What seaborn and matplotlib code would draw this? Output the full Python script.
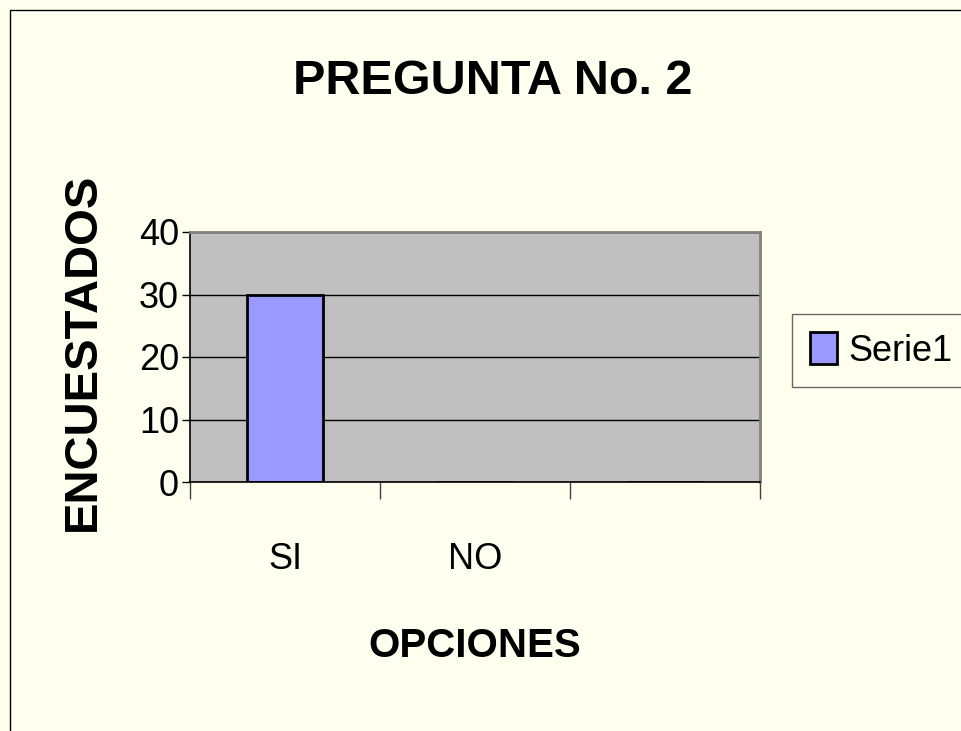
import seaborn as sns
import pandas as pd
import matplotlib.pyplot as plt
from matplotlib.patches import Rectangle

# data
opciones = ["SI", "NO", ""]
encuestados = [30, 0, 0]
serie = "Serie1"

df = pd.DataFrame({"opcion": opciones, "valor": encuestados})

sns.set_style("white")
plt.rcParams['font.family'] = ['Liberation Sans', 'DejaVu Sans']
plt.rcParams['text.color'] = 'black'
plt.rcParams['axes.labelcolor'] = 'black'
plt.rcParams['xtick.color'] = 'black'
plt.rcParams['ytick.color'] = 'black'

bg = "#FFFFF0"
fig = plt.figure(figsize=(9.61, 7.31), dpi=100, facecolor=bg)
ax = fig.add_axes([190 / 961, 1 - 482 / 731, 570 / 961, 250 / 731])
ax.set_facecolor("#C0C0C0")

sns.barplot(data=df, x="opcion", y="valor", color="#9999FF", width=0.4,
            edgecolor="black", linewidth=2, saturation=1, ax=ax, label=serie)

ax.set_xlim(-0.5, len(opciones) - 0.5)
ax.set_ylim(0, 40)
ax.set_yticks([0, 10, 20, 30, 40])
ax.yaxis.grid(True, color="black", linewidth=1)
ax.set_axisbelow(True)
ax.tick_params(axis="y", labelsize=26, length=6, width=1, direction="out", left=True, pad=2)

# category ticks at boundaries, labels at centres
ax.set_xticks([i - 0.5 for i in range(len(opciones) + 1)])
ax.set_xticklabels([])
ax.set_xticks(range(len(opciones)), minor=True)
ax.set_xticklabels(opciones, minor=True, fontsize=26)
ax.tick_params(axis="x", which="major", length=12, width=1, direction="out", bottom=True, color="#404040")
ax.tick_params(axis="x", which="minor", length=0, pad=43)

for side in ["left", "bottom"]:
    ax.spines[side].set_color("black")
    ax.spines[side].set_linewidth(1.2)
for side in ["top", "right"]:
    ax.spines[side].set_color("#808080")
    ax.spines[side].set_linewidth(2)

ax.set_xlabel("OPCIONES", fontsize=29, fontweight="bold", labelpad=36)
ax.set_ylabel("ENCUESTADOS", fontsize=34, fontweight="bold")
ax.yaxis.set_label_coords(-0.15, 0.52)

fig.text(0.513, 0.888, "PREGUNTA No. 2", fontsize=35, fontweight="bold", ha="center", va="center")

if ax.get_legend():
    ax.get_legend().remove()
handles, labels = ax.get_legend_handles_labels()
leg = fig.legend(handles, labels, loc="upper left", bbox_to_anchor=(792 / 961, 1 - 314 / 731),
                 fontsize=26, frameon=True, fancybox=False, edgecolor="#404040",
                 facecolor=bg, handlelength=0.75, handleheight=1.0, handletextpad=0.3,
                 borderpad=0.5, borderaxespad=0)
leg.get_frame().set_linewidth(1)

# outer chart border
fig.patches.append(Rectangle((10 / 961, -0.2), 1.2, 1.2 - 10 / 731, transform=fig.transFigure,
                             fill=False, edgecolor="black", linewidth=1, clip_on=False))

fig.savefig("out.png", dpi=100, facecolor=bg)
